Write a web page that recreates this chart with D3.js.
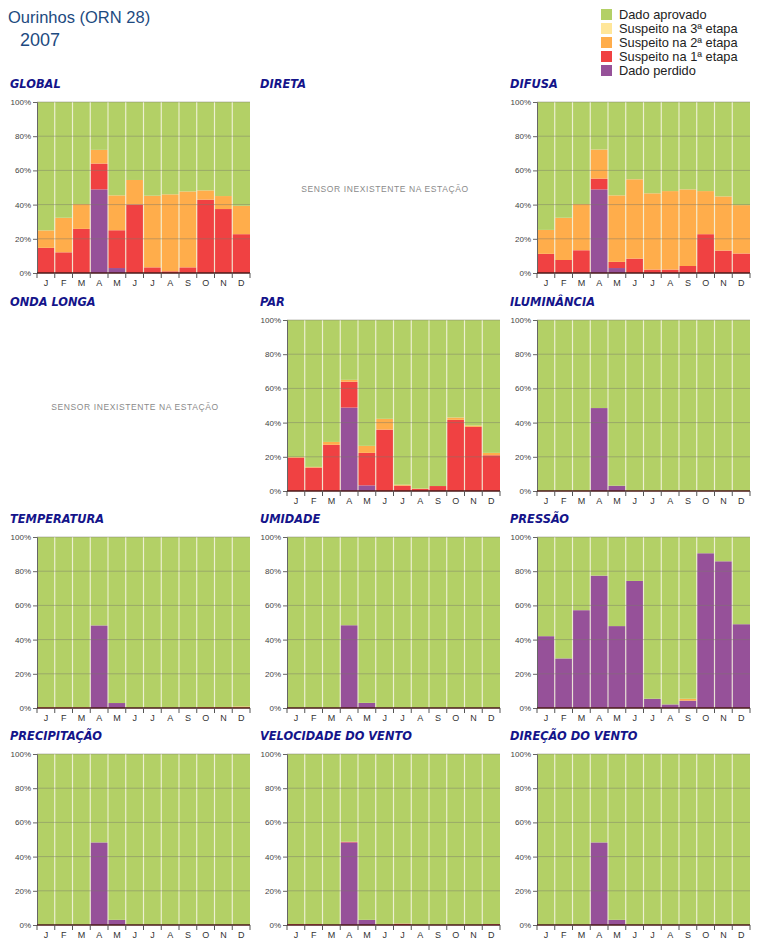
<!DOCTYPE html>
<html><head><meta charset="utf-8">
<script src="https://cdn.jsdelivr.net/npm/d3@7"></script>
<style>
body{margin:0;background:#fff;}
svg{display:block;font-family:"Liberation Sans",Arial,sans-serif;}
</style></head>
<body>
<svg id="chart" width="760" height="949"></svg>
<script>
// ---------- DATA ----------
const station = "Ourinhos (ORN 28)";
const year = "2007";
const months = ["J","F","M","A","M","J","J","A","S","O","N","D"];
const yTicks = [0,20,40,60,80,100];
const categories = ["Dado perdido","Suspeito na 1ª etapa","Suspeito na 2ª etapa","Suspeito na 3ª etapa","Dado aprovado"];
const legendOrder = ["Dado aprovado","Suspeito na 3ª etapa","Suspeito na 2ª etapa","Suspeito na 1ª etapa","Dado perdido"];
const missingText = "SENSOR INEXISTENTE NA ESTAÇÃO";

// values in % (perdido, suspeito 1ª, 2ª, 3ª); aprovado = remainder
const globalPerdido = [0,0,0,48.9,2.9,0,0,0,0,0,0,0];
const globalS1      = [14.7,12.1,25.8,15.1,22.1,40.1,3.3,1.0,3.3,42.9,37.4,22.7];
const globalS2      = [10.2,20.2,14.5,8.0,20.4,14.3,41.9,45.0,44.4,5.4,7.6,16.6];
const globalS3      = [0,0,0,0,0,0,0,0,0,0,0,0];

const difusaPerdido = [0,0,0,48.9,2.9,0,0,0,0,0,0,0];
const difusaS1      = [11.2,7.6,13.3,6.3,3.6,8.4,2.0,2.0,4.1,22.7,13.1,11.4];
const difusaS2      = [14.0,24.7,27.0,17.0,38.9,46.4,44.6,45.9,44.8,25.2,31.7,28.3];
const difusaS3      = [0,0,0,0,0,0,0,0,0,0,0,0];

const parPerdido = [0,0,0,48.8,3.3,0,0,0,0,0,0,0];
const parS1      = [19.5,13.7,27.0,15.1,19.0,35.9,3.1,1.2,2.9,41.6,37.5,20.9];
const parS2      = [0.4,0.4,1.7,1.1,4.1,6.3,0.6,0.2,0,1.4,0.8,1.4];
const parS3      = [0,0,0,0,0,0,0,0,0,0,0,0];

const ilumPerdido = [0,0,0,48.5,3.1,0,0,0,0,0,0,0];
const tempPerdido = [0,0,0,48.3,2.9,0,0,0,0,0,0,0];
const tempS2      = [0.5,0.5,0.5,0,0,0,0,0,0,0.6,0.6,0.9];
const umidPerdido = [0,0,0,48.4,3.0,0,0,0,0,0,0,0];
const pressPerdido = [42.0,29.0,57.2,77.4,47.9,74.3,5.4,2.1,4.3,90.5,85.8,49.0];
const pressS2      = [0,0,0,0,0,0,0,0,1.1,0,0,0];
const precPerdido = [0,0,0,48.3,3.0,0,0,0,0,0,0,0];
const ventoVelPerdido = [0,0,0,48.3,3.0,0,0,0,0,0,0,0];
const ventoVelS1      = [0.5,0.5,0,0.4,0,0,0.8,0,0,0,0,0.5];
const ventoDirPerdido = [0,0,0,48.3,3.0,0,0,0,0,0,0,0];
const zeros = [0,0,0,0,0,0,0,0,0,0,0,0];

const charts = [
  {title:"GLOBAL", perdido:globalPerdido, s1:globalS1, s2:globalS2, s3:globalS3},
  {title:"DIRETA", missing:true},
  {title:"DIFUSA", perdido:difusaPerdido, s1:difusaS1, s2:difusaS2, s3:difusaS3},
  {title:"ONDA LONGA", missing:true},
  {title:"PAR", perdido:parPerdido, s1:parS1, s2:parS2, s3:parS3},
  {title:"ILUMINÂNCIA", perdido:ilumPerdido, s1:zeros, s2:zeros, s3:zeros},
  {title:"TEMPERATURA", perdido:tempPerdido, s1:zeros, s2:tempS2, s3:zeros},
  {title:"UMIDADE", perdido:umidPerdido, s1:zeros, s2:zeros, s3:zeros},
  {title:"PRESSÃO", perdido:pressPerdido, s1:zeros, s2:pressS2, s3:zeros},
  {title:"PRECIPITAÇÃO", perdido:precPerdido, s1:zeros, s2:zeros, s3:zeros},
  {title:"VELOCIDADE DO VENTO", perdido:ventoVelPerdido, s1:ventoVelS1, s2:zeros, s3:zeros},
  {title:"DIREÇÃO DO VENTO", perdido:ventoDirPerdido, s1:zeros, s2:zeros, s3:zeros}
];

// ---------- STYLE ----------
const colorMap = {
  "Dado aprovado":"#b3d066",
  "Suspeito na 3ª etapa":"#ffe699",
  "Suspeito na 2ª etapa":"#ffad4b",
  "Suspeito na 1ª etapa":"#f04142",
  "Dado perdido":"#965199"
};
const colX = [0,250,500];
const rowTop = [102,320,537,754];
const plotL = 37, plotW = 213, plotH = 171;

const svg = d3.select("#chart");

// header
svg.append("text").attr("x",8).attr("y",23).attr("font-size",16.5).attr("fill","#1d4a80").text(station);
svg.append("text").attr("x",20).attr("y",46).attr("font-size",18).attr("fill","#1d4a80").text(year);

// legend
const lg = svg.append("g");
legendOrder.forEach((c,i)=>{
  const y = 9 + i*14;
  lg.append("rect").attr("x",601).attr("y",y).attr("width",11).attr("height",11).attr("fill",colorMap[c]);
  lg.append("text").attr("x",619).attr("y",y+10).attr("font-size",12.8).attr("fill","#222").text(c);
});

const x = d3.scaleBand().domain(d3.range(12)).range([0,plotW]).padding(0);
const y = d3.scaleLinear().domain([0,100]).range([plotH,0]);

charts.forEach((ch,i)=>{
  const cx = colX[i%3], top = rowTop[Math.floor(i/3)];
  const g = svg.append("g").attr("transform",`translate(${cx+plotL},${top})`);
  svg.append("text").attr("x",cx+10).attr("y",top-14)
    .attr("font-family","'DejaVu Sans',sans-serif").attr("font-weight","bold").attr("font-style","italic")
    .attr("font-size",11.4).attr("fill","#14148a").text(ch.title);
  if(ch.missing){
    svg.append("text").attr("x",cx+135).attr("y",top+plotH/2+4).attr("text-anchor","middle")
      .attr("font-size",8.5).attr("letter-spacing",0.6).attr("fill","#8a8a8a").text(missingText);
    return;
  }
  const rows = months.map((m,j)=>{
    const o = {i:j};
    o["Dado perdido"] = ch.perdido[j];
    o["Suspeito na 1ª etapa"] = ch.s1[j];
    o["Suspeito na 2ª etapa"] = ch.s2[j];
    o["Suspeito na 3ª etapa"] = ch.s3[j];
    o["Dado aprovado"] = 100 - ch.perdido[j] - ch.s1[j] - ch.s2[j] - ch.s3[j];
    return o;
  });
  const stack = d3.stack().keys(categories)(rows);
  stack.forEach(layer=>{
    g.append("g").selectAll("rect").data(layer).join("rect")
      .attr("x",d=>x(d.data.i)).attr("width",x.bandwidth())
      .attr("y",d=>y(d[1])).attr("height",d=>Math.max(0,y(d[0])-y(d[1])))
      .attr("fill",colorMap[layer.key]);
  });
  // column separators
  g.append("g").selectAll("line").data(d3.range(1,12)).join("line")
    .attr("x1",d=>x(d)).attr("x2",d=>x(d)).attr("y1",0).attr("y2",plotH)
    .attr("stroke","#f4f4dc").attr("stroke-width",1.2).attr("opacity",0.85);
  // gridlines
  g.append("g").selectAll("line").data(yTicks.filter(t=>t>0)).join("line")
    .attr("x1",0).attr("x2",plotW).attr("y1",d=>y(d)).attr("y2",d=>y(d))
    .attr("stroke","#7a7a6a").attr("stroke-opacity",0.45).attr("stroke-width",1);
  // y axis
  const ya = g.append("g").call(d3.axisLeft(y).tickValues(yTicks).tickFormat(d=>d+"%").tickSize(4).tickPadding(2));
  ya.select(".domain").attr("stroke","#666");
  ya.selectAll(".tick line").attr("stroke","#666");
  ya.selectAll("text").attr("font-size",8).attr("fill","#444").attr("font-family","'Liberation Sans Narrow','Liberation Sans',sans-serif");
  // x axis
  const xa = g.append("g").attr("transform",`translate(0,${plotH})`)
    .call(d3.axisBottom(x).tickFormat(d=>months[d]).tickSize(0).tickPadding(7));
  xa.select(".domain").remove();
  xa.selectAll("text").attr("font-size",9).attr("fill","#333");
  g.append("line").attr("x1",0).attr("x2",plotW).attr("y1",plotH).attr("y2",plotH).attr("stroke","#4a1a1a").attr("stroke-width",1.5);
  g.append("g").selectAll("line").data(d3.range(0,13)).join("line")
    .attr("x1",d=>d===12?plotW:x(d)).attr("x2",d=>d===12?plotW:x(d))
    .attr("y1",plotH).attr("y2",plotH+5).attr("stroke","#555");
});
</script>
</body></html>
